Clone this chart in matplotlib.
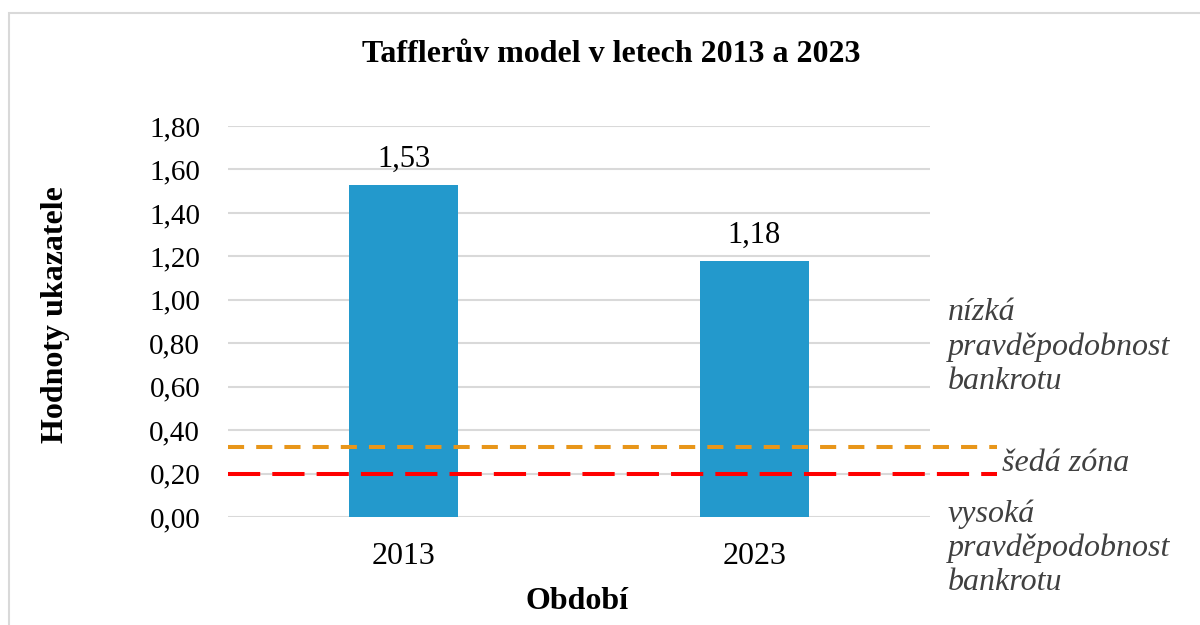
import matplotlib.pyplot as plt
from matplotlib.patches import Rectangle

plt.rcParams['font.family'] = ['Liberation Serif', 'DejaVu Serif']

roky = ['2013', '2023']
hodnoty = [1.53, 1.18]
seda_zona_horni = 0.32
seda_zona_dolni = 0.2
y_ticks = [0.0, 0.2, 0.4, 0.6, 0.8, 1.0, 1.2, 1.4, 1.6, 1.8]

fig = plt.figure(figsize=(12, 6.25), dpi=100)
ax = fig.add_axes([0.19, 0.1728, 0.585, 0.6256])

# ramecek grafu
fig.patches.append(Rectangle((9/1200, -0.1), 1.2, 1 - 13/625 + 0.1,
                             transform=fig.transFigure, fill=False,
                             edgecolor='#d9d9d9', linewidth=1.5))

x = range(len(roky))
ax.bar(x, hodnoty, width=0.313, color='#2399cc', zorder=2)
for i, v in zip(x, hodnoty):
    ax.annotate('{:.2f}'.format(v).replace('.', ','), (i, v), xytext=(0, 8),
                textcoords='offset points', ha='center', va='bottom', fontsize=22)

ax.plot([-0.5, 1.69], [seda_zona_horni] * 2, color='#e8961a', linewidth=2.9,
        dashes=(4, 3), clip_on=False, zorder=3)
ax.plot([-0.5, 1.69], [seda_zona_dolni] * 2, color='#ff0000', linewidth=2.9,
        dashes=(8, 3), clip_on=False, zorder=3)

ax.set_xlim(-0.5, 1.5)
ax.set_ylim(0, 1.8)
ax.set_yticks(y_ticks)
ax.set_yticklabels(['{:.2f}'.format(t).replace('.', ',') for t in y_ticks], fontsize=21)
ax.set_xticks(list(x))
ax.set_xticklabels(roky, fontsize=23)
ax.tick_params(length=0, pad=20)
ax.tick_params(axis='x', pad=18)
ax.grid(axis='y', color='#d9d9d9', linewidth=1.5, zorder=0)
ax.set_axisbelow(True)
for s in ax.spines.values():
    s.set_visible(False)

fig.text(0.509, 0.912, 'Tafflerův model v letech 2013 a 2023', ha='center', va='center',
         fontsize=23, fontweight='bold')
fig.text(0.046, 0.496, 'Hodnoty ukazatele', rotation=90, ha='center', va='center',
         fontsize=23, fontweight='bold')
fig.text(0.481, 0.038, 'Období', ha='center', va='center', fontsize=23, fontweight='bold')

sedy = '#404040'
fig.text(0.79, 0.445, 'nízká\npravděpodobnost\nbankrotu', ha='left', va='center',
         fontsize=23, style='italic', color=sedy, linespacing=1.22)
fig.text(0.835, 0.259, 'šedá zóna', ha='left', va='center',
         fontsize=23, style='italic', color=sedy)
fig.text(0.79, 0.123, 'vysoká\npravděpodobnost\nbankrotu', ha='left', va='center',
         fontsize=23, style='italic', color=sedy, linespacing=1.22)

fig.savefig('out.png', dpi=100)
